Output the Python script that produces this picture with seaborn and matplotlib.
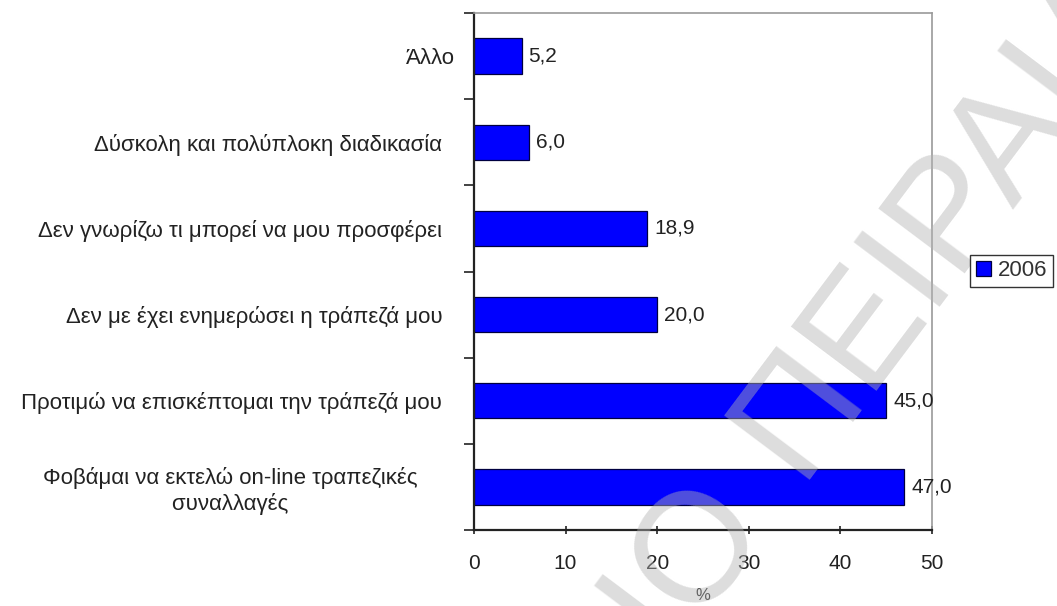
import matplotlib
matplotlib.use("Agg")
import matplotlib.pyplot as plt
from matplotlib.patches import Patch
from matplotlib.ticker import FixedLocator
import pandas as pd
import seaborn as sns

# Reasons for not using e-banking (survey, %)
categories = [
    "Άλλο",
    "Δύσκολη και πολύπλοκη διαδικασία  ",
    "Δεν γνωρίζω τι μπορεί να μου προσφέρει  ",
    "Δεν με έχει ενημερώσει η τράπεζά μου  ",
    "Προτιμώ να επισκέπτομαι την τράπεζά μου  ",
    "Φοβάμαι να εκτελώ on-line τραπεζικές      \nσυναλλαγές      ",
]
values = [5.2, 6.0, 18.9, 20.0, 45.0, 47.0]
series_name = "2006"
x_ticks = [0, 10, 20, 30, 40, 50]
x_label = "%"
watermark = ["ΠΑΝΕΠΙΣΤΗΜΙΟ", "ΠΕΙΡΑΙΑ"]

sns.set_theme(style="white")
plt.rcParams["font.family"] = ["Liberation Sans", "DejaVu Sans"]
text_color = "#222222"
bar_color = "#0000ff"

df = pd.DataFrame({"reason": categories, "pct": values, "year": series_name})

fig = plt.figure(figsize=(10.57, 6.06), dpi=100)
ax = fig.add_axes([0.4484, 0.1254, 0.4333, 0.8531])

sns.barplot(data=df, y="reason", x="pct", orient="h", color=bar_color,
            width=0.41, edgecolor="#000040", linewidth=0.9, saturation=1,
            ax=ax, legend=False)

ax.set_xlim(0, 50)
ax.set_ylim(5.5, -0.5)
ax.xaxis.set_major_locator(FixedLocator(x_ticks))
ax.set_xticklabels([str(t) for t in x_ticks], fontsize=15, color=text_color)
ax.set_xlabel(x_label, fontsize=12, color=text_color, labelpad=11)
ax.set_ylabel("")

# category labels; tick marks sit on the boundaries between categories
ax.set_yticks(range(len(categories)))
ax.set_yticklabels(categories, fontsize=16, color=text_color,
                   multialignment="center")
ax.yaxis.set_minor_locator(FixedLocator([i - 0.5 for i in range(len(categories) + 1)]))
ax.tick_params(axis="y", which="major", length=0, pad=14)
ax.tick_params(axis="y", which="minor", length=7, width=1.2, color="#222222",
               direction="out", left=True)
ax.tick_params(axis="x", which="major", length=6, width=1.2, color="#222222",
               direction="inout", bottom=True, pad=14)

for side in ["left", "bottom"]:
    ax.spines[side].set_color("#222222")
    ax.spines[side].set_linewidth(1.6)
for side in ["top", "right"]:
    ax.spines[side].set_color("#9a9a9a")
    ax.spines[side].set_linewidth(1.2)
ax.grid(False)

# value labels with a decimal comma
labels = [f"{v:.1f}".replace(".", ",") for v in values]
ax.bar_label(ax.containers[0], labels=labels, padding=5, fontsize=15,
             color=text_color)

# faint diagonal watermark
wm_kw = dict(fontsize=112, color=(0.70, 0.70, 0.70), alpha=0.45,
             rotation=53.1, rotation_mode="anchor", va="baseline", zorder=3)
fig.text(766 / 1057, 1 - 520 / 606, watermark[0], ha="right", **wm_kw)
fig.text(797 / 1057, 1 - 480 / 606, watermark[1], ha="left", **wm_kw)

fig.legend(handles=[Patch(facecolor=bar_color, edgecolor="#000040",
                          linewidth=0.9, label=series_name)],
           loc="center", bbox_to_anchor=(0.957, 0.553), frameon=True,
           fancybox=False, edgecolor="#333333", framealpha=1,
           fontsize=16, handlelength=0.7, handleheight=0.7,
           handletextpad=0.3, borderpad=0.25, borderaxespad=0)
for t in fig.legends[0].get_texts():
    t.set_color("#333333")

fig.savefig("out.png", dpi=100)
